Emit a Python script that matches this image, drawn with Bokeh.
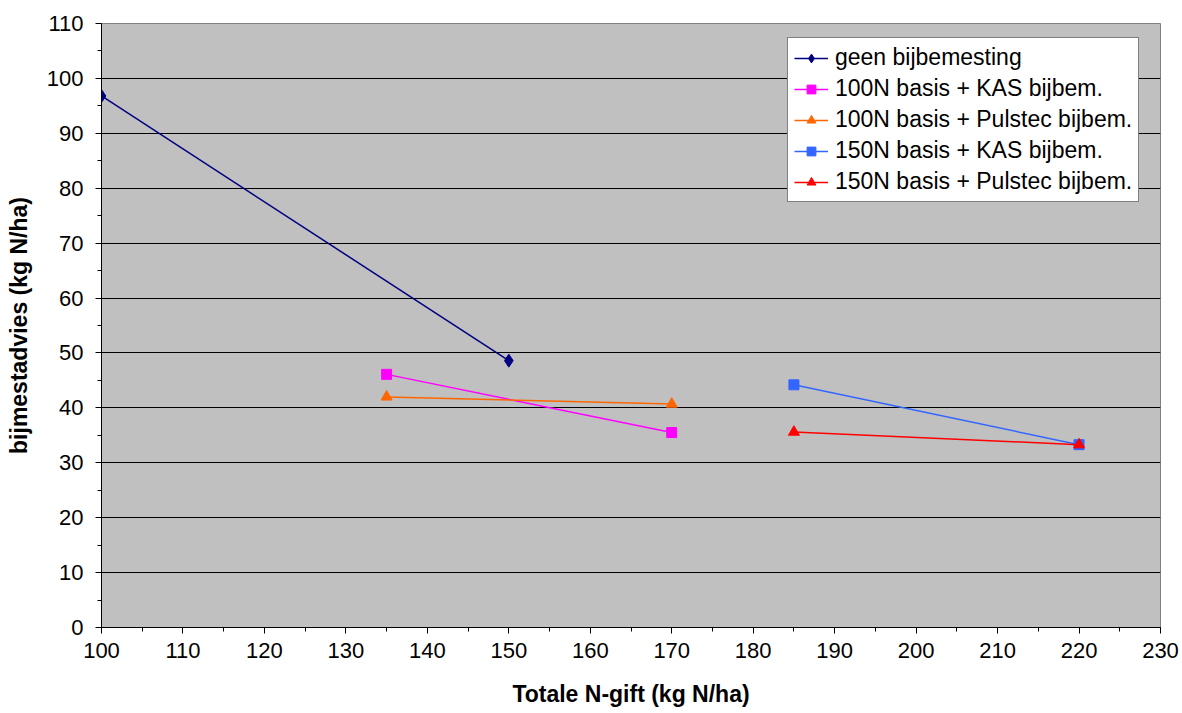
from bokeh.plotting import figure
from bokeh.models import Range1d, Legend, LegendItem, FixedTicker
from bokeh.embed import file_html
from bokeh.resources import INLINE

# data
x_geen = [100, 150]
y_geen = [96.8, 48.6]
x_100kas = [135, 170]
y_100kas = [46.1, 35.5]
x_100pul = [135, 170]
y_100pul = [42.0, 40.7]
x_150kas = [185, 220]
y_150kas = [44.2, 33.3]
x_150pul = [185, 220]
y_150pul = [35.6, 33.3]

x_ticks = list(range(100, 231, 10))
y_ticks = list(range(0, 111, 10))

FONT = "Liberation Sans"

p = figure(width=1182, height=713, output_backend="svg", toolbar_location=None,
           x_range=Range1d(100, 230), y_range=Range1d(0, 110),
           min_border_left=101, min_border_right=22, min_border_top=23, min_border_bottom=86)
p.border_fill_color = "white"
p.background_fill_color = "#C0C0C0"
p.outline_line_color = "#808080"

p.xgrid.grid_line_color = None
p.ygrid.grid_line_color = "black"
p.ygrid.grid_line_width = 1
p.ygrid.ticker = FixedTicker(ticks=y_ticks)

for ax in (p.xaxis[0], p.yaxis[0]):
    ax.axis_line_color = "black"
    ax.major_tick_line_color = "black"
    ax.minor_tick_line_color = "black"
    ax.major_tick_out = 6
    ax.major_tick_in = 0
    ax.minor_tick_out = 4
    ax.minor_tick_in = 0
    ax.major_label_text_font = FONT
    ax.major_label_text_font_size = "22px"
    ax.major_label_text_color = "black"
    ax.axis_label_text_font = FONT
    ax.axis_label_text_font_size = "23px"
    ax.axis_label_text_font_style = "bold"
    ax.axis_label_text_color = "black"

p.xaxis.ticker = FixedTicker(ticks=x_ticks, minor_ticks=list(range(100, 231, 5)))
p.yaxis.ticker = FixedTicker(ticks=y_ticks, minor_ticks=list(range(0, 111, 5)))
p.xaxis.axis_label = "Totale N-gift (kg N/ha)"
p.yaxis.axis_label = "bijmestadvies (kg N/ha)"
p.xaxis.major_label_standoff = 9
p.yaxis.major_label_standoff = 12
p.xaxis.axis_label_standoff = 20
p.yaxis.axis_label_standoff = 12

items = []
l = p.line(x_geen, y_geen, line_color="#000080", line_width=1.5)
m = p.scatter(x_geen, y_geen, marker="diamond", size=13, fill_color="#000080", line_color="#000080")
items.append(LegendItem(label="geen bijbemesting", renderers=[l, m]))
l = p.line(x_100kas, y_100kas, line_color="#FF00FF", line_width=1.5)
m = p.scatter(x_100kas, y_100kas, marker="square", size=10, fill_color="#FF00FF", line_color="#FF00FF")
items.append(LegendItem(label="100N basis + KAS bijbem.", renderers=[l, m]))
l = p.line(x_100pul, y_100pul, line_color="#FF6600", line_width=1.5)
m = p.scatter(x_100pul, y_100pul, marker="triangle", size=11, fill_color="#FF6600", line_color="#FF6600")
items.append(LegendItem(label="100N basis + Pulstec bijbem.", renderers=[l, m]))
l = p.line(x_150kas, y_150kas, line_color="#3366FF", line_width=1.5)
m = p.scatter(x_150kas, y_150kas, marker="square", size=10, fill_color="#3366FF", line_color="#3366FF")
items.append(LegendItem(label="150N basis + KAS bijbem.", renderers=[l, m]))
l = p.line(x_150pul, y_150pul, line_color="#FF0000", line_width=1.5)
m = p.scatter(x_150pul, y_150pul, marker="triangle", size=11, fill_color="#FF0000", line_color="#FF0000")
items.append(LegendItem(label="150N basis + Pulstec bijbem.", renderers=[l, m]))

legend = Legend(items=items, location=(686, 425))
legend.label_text_font = FONT
legend.label_text_font_size = "23px"
legend.label_text_color = "black"
legend.border_line_color = "black"
legend.border_line_width = 1
legend.background_fill_color = "white"
legend.background_fill_alpha = 1
legend.glyph_width = 34
legend.glyph_height = 22
legend.label_height = 22
legend.spacing = 4
legend.padding = 6
legend.margin = 0
legend.label_standoff = 7
p.add_layout(legend, "center")

open("out.html", "w").write(file_html(p, INLINE))
